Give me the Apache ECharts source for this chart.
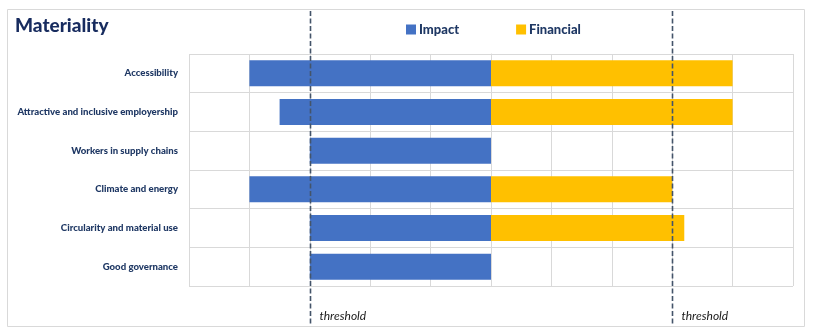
<!DOCTYPE html>
<html>
<head>
<meta charset="utf-8">
<script src="https://cdn.jsdelivr.net/npm/echarts@6/dist/echarts.min.js"></script>
<style>html,body{margin:0;padding:0;background:#fff}#c{width:819px;height:336px}</style>
</head>
<body>
<div id="c"></div>
<script>
const categories = ["Accessibility","Attractive and inclusive employership","Workers in supply chains","Climate and energy","Circularity and material use","Good governance"];
const impactValues = [-4, -3.5, -3, -4, -3, -3];
const financialValues = [4, 4, 0, 3, 3.2, 0];
const thresholds = [-3, 3];
const thresholdLabel = "threshold";

const FONT = "Lato, 'Open Sans', sans-serif";
const NAVY = "#1f3864";
const chart = echarts.init(document.getElementById('c'), null, {renderer:'canvas'});
chart.setOption({
  animation:false,
  title:{text:"Materiality", left:10, top:11, textStyle:{fontFamily:FONT, fontSize:19, fontWeight:900, color:"#172b5e"}},
  legend:{left:401, top:18, itemWidth:10, itemHeight:10, itemGap:57, icon:'rect',
    textStyle:{fontFamily:FONT, fontSize:13, fontWeight:900, color:NAVY, padding:[0,0,0,-2]},
    data:["Impact","Financial"]},
  grid:{left:189, top:54, width:604, height:232},
  xAxis:{type:'value', min:-5, max:5, interval:1, axisLabel:{show:false}, axisLine:{show:false}, axisTick:{show:false},
    splitLine:{show:true, lineStyle:{color:"#d9d9d9", width:1}}},
  yAxis:{type:'category', data:categories, inverse:true, axisTick:{show:false},
    axisLine:{show:true, lineStyle:{color:"#d9d9d9"}},
    splitLine:{show:true, lineStyle:{color:"#d9d9d9", width:1}},
    axisLabel:{fontFamily:FONT, fontSize:9.6, fontWeight:900, color:NAVY, margin:11}},
  series:[
    {name:"Impact", type:'bar', data:impactValues, barWidth:26, barGap:'-100%', itemStyle:{color:"#4472c4"}},
    {name:"Financial", type:'bar', data:financialValues, barWidth:26, barGap:'-100%', itemStyle:{color:"#ffc000"}}
  ]
});

const g = [{type:'rect', shape:{x:7.5, y:9.5, width:797, height:317}, style:{fill:null, stroke:"#d9d9d9", lineWidth:1}, z:-1}];
thresholds.forEach(v => {
  const x = Math.round(chart.convertToPixel({xAxisIndex:0}, v)) + 0.5;
  g.push({type:'line', shape:{x1:x, y1:11, x2:x, y2:326}, style:{stroke:"#44546a", lineWidth:1.6, lineDash:[5,2.5]}, z:10});
  g.push({type:'text', x:x+9, y:316, style:{text:thresholdLabel, fontFamily:FONT, fontSize:12, fontStyle:'italic', fill:"#1a1a1a", textVerticalAlign:'middle'}, z:10});
});
chart.setOption({graphic:g});
</script>
</body>
</html>
